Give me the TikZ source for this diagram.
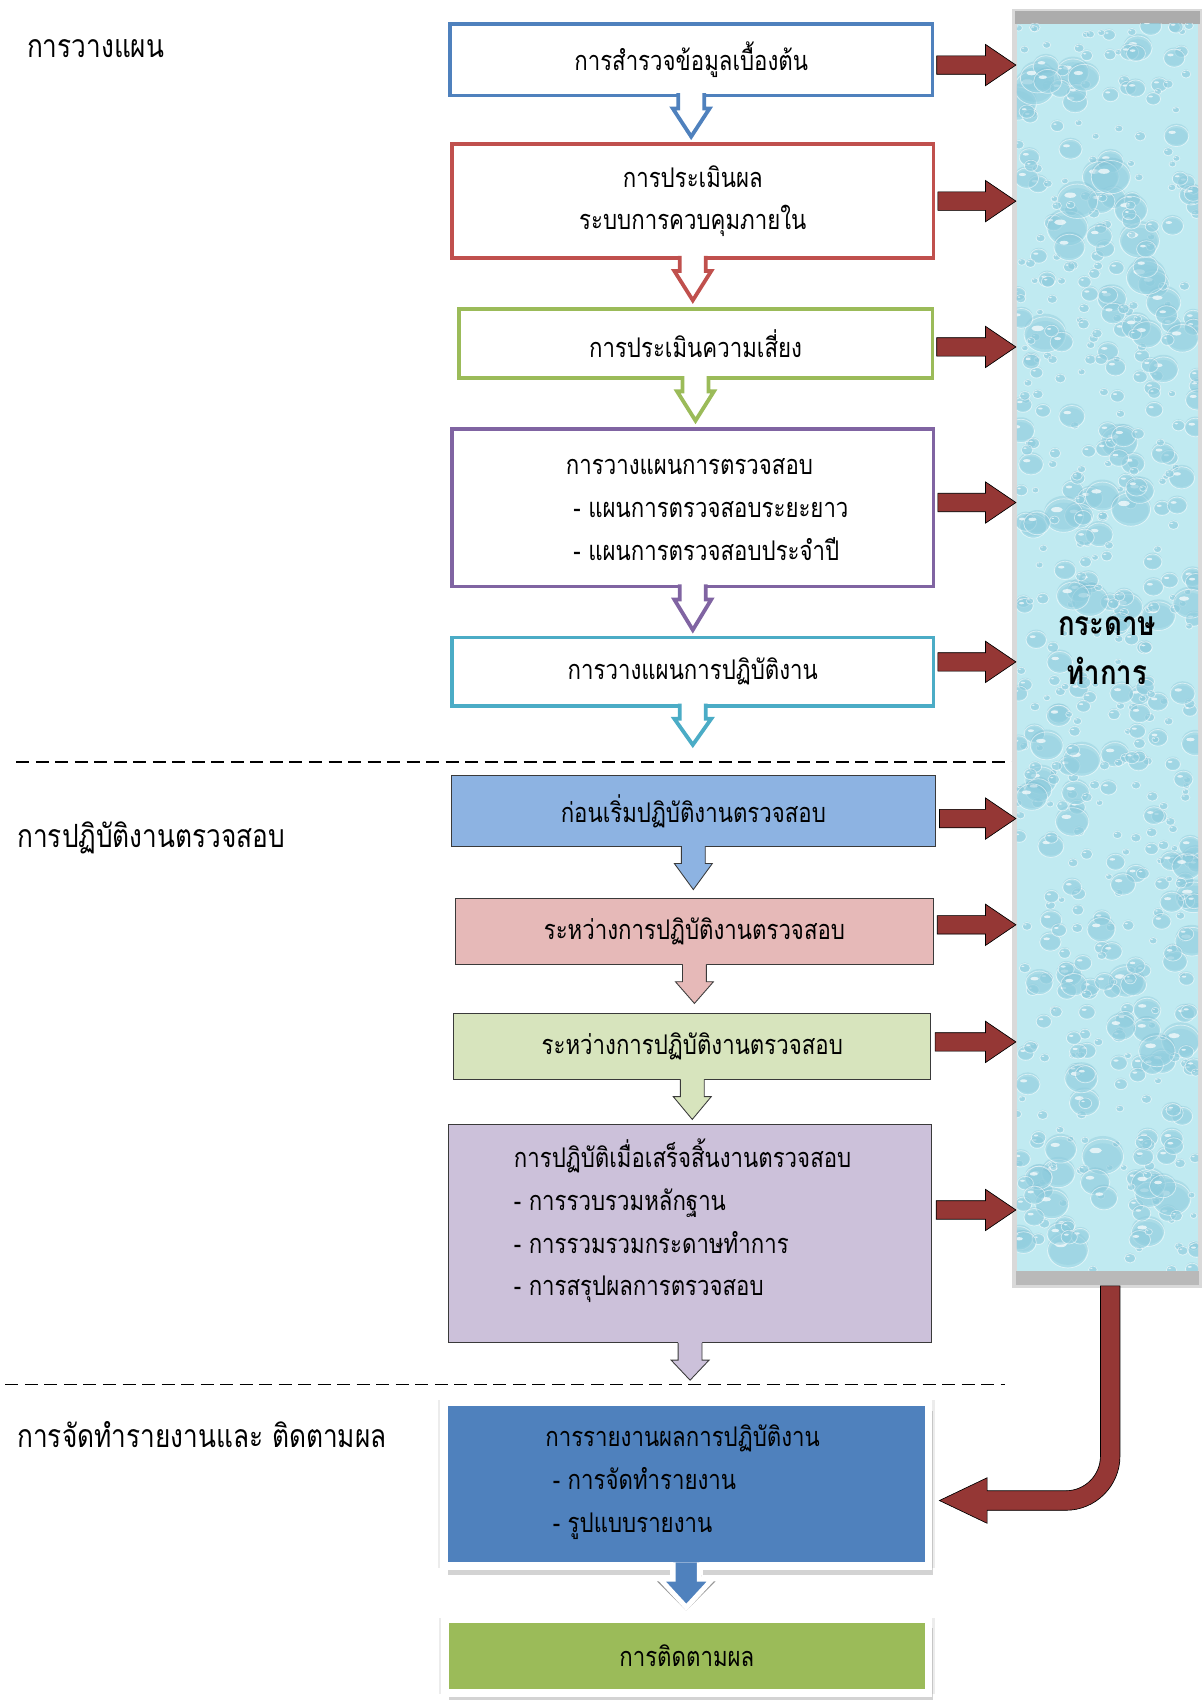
\documentclass[tikz,border=0pt]{standalone}
\usepackage{fontspec}
\newfontfamily\thai[Script=Thai,FakeStretch=0.82]{Loma}
\usetikzlibrary{calc,shadows}

\definecolor{cBlue}{HTML}{4F81BD}
\definecolor{cRed}{HTML}{C0504D}
\definecolor{cGreen}{HTML}{9BBB59}
\definecolor{cPurple}{HTML}{8064A2}
\definecolor{cCyan}{HTML}{4BACC6}
\definecolor{fBlue}{HTML}{8DB3E2}
\definecolor{fPink}{HTML}{E6B9B8}
\definecolor{fLime}{HTML}{D7E4BD}
\definecolor{fLilac}{HTML}{CCC1DA}
\definecolor{cEdge}{HTML}{3A3A3A}
\definecolor{cDarkRed}{HTML}{953735}
\definecolor{cWater}{RGB}{192,234,241}
\definecolor{cDrop}{RGB}{150,210,226}
\definecolor{cDropDark}{RGB}{110,180,204}

% hollow down arrow: from node #1 to visual tip #2, colour #3
\newcommand\hollowdown[3]{%
  \fill[white] let \p1=(#1.south), \p2=#2 in
    (\x1-12pt,\y1+2pt) -- (\x1-12pt,\y1-12pt) -- (\x1-17pt,\y1-12pt) -- (\x1,\y2+3pt)
    -- (\x1+17pt,\y1-12pt) -- (\x1+12pt,\y1-12pt) -- (\x1+12pt,\y1+2pt) -- cycle;
  \draw[#3,line width=3.5pt,miter limit=6] let \p1=(#1.south), \p2=#2 in
    (\x1-12pt,\y1+2pt) -- (\x1-12pt,\y1-12pt) -- (\x1-17pt,\y1-12pt) -- (\x1,\y2+3pt)
    -- (\x1+17pt,\y1-12pt) -- (\x1+12pt,\y1-12pt) -- (\x1+12pt,\y1+2pt);
}
% filled down arrow: from node #1 to tip #2, fill colour #3
\newcommand\solidown[3]{%
  \fill[#3] let \p1=(#1.south), \p2=#2 in
    (\x1-11pt,\y1+.5pt) -- (\x1-11pt,\y1-16pt) -- (\x1-17.5pt,\y1-16pt) -- (\x1,\y2)
    -- (\x1+17.5pt,\y1-16pt) -- (\x1+11pt,\y1-16pt) -- (\x1+11pt,\y1+.5pt) -- cycle;
  \draw[cEdge,line width=.8pt] let \p1=(#1.south), \p2=#2 in
    (\x1-11pt,\y1) -- (\x1-11pt,\y1-16pt) -- (\x1-17.5pt,\y1-16pt) -- (\x1,\y2)
    -- (\x1+17.5pt,\y1-16pt) -- (\x1+11pt,\y1-16pt) -- (\x1+11pt,\y1);
}
% block arrow from node #1 to the working-paper column, vertical offset #2 (pt)
\newcommand\blockright[2]{%
  \foreach \sx/\sy/\op in {-4/8/.1,-3/6/.14,-2/4/.18,-1/2/.2}{
    \fill[black,opacity=\op,xshift=\sx pt,yshift=\sy pt] let \p1=(#1.east), \p2=(col.west) in
      (\x1+4pt,\y1+#2pt+8.5pt) -- (\x2-29pt,\y1+#2pt+8.5pt) -- (\x2-29pt,\y1+#2pt+19pt)
      -- (\x2-1pt,\y1+#2pt) -- (\x2-29pt,\y1+#2pt-19pt) -- (\x2-29pt,\y1+#2pt-8.5pt)
      -- (\x1+4pt,\y1+#2pt-8.5pt) -- cycle;}
  \draw[fill=cDarkRed,draw=black,line width=.6pt] let \p1=(#1.east), \p2=(col.west) in
    (\x1+4pt,\y1+#2pt+8.5pt) -- (\x2-29pt,\y1+#2pt+8.5pt) -- (\x2-29pt,\y1+#2pt+19pt)
    -- (\x2-1pt,\y1+#2pt) -- (\x2-29pt,\y1+#2pt-19pt) -- (\x2-29pt,\y1+#2pt-8.5pt)
    -- (\x1+4pt,\y1+#2pt-8.5pt) -- cycle;
}

\tikzset{
  every node/.style={inner sep=0pt,outer sep=0pt},
  txt/.style={font=\thai\fontsize{25}{39.5}\selectfont,text=black},
  lbl/.style={font=\thai\fontsize{29.5}{34}\selectfont,text=black,anchor=west},
  obox/.style={txt,draw=#1,line width=3.5pt,fill=white},
  fbox/.style={txt,draw=cEdge,line width=.8pt,fill=#1},
  wbox/.style={txt,draw=white,line width=7pt,fill=#1,
    drop shadow={shadow xshift=4pt,shadow yshift=-8pt,opacity=.35,fill=gray},
    general shadow={shadow xshift=0pt,shadow yshift=0pt,shadow scale=1.025,opacity=.15,fill=gray}},
  dashline/.style={line width=1.4pt,dash pattern=on 12pt off 6pt},
}

\begin{document}
\begin{tikzpicture}[x=1pt,y=-1pt]
\useasboundingbox (0,0) rectangle (1110,1568);

% section labels
\node[lbl] (l1) at (25,45) {การวางแผน};
\node[lbl] (l2) at (16,773) {การปฏิบัติงานตรวจสอบ};
\node[lbl] (l3) at (16,1323) {การจัดทำรายงานและ ติดตามผล};

% section separators
\coordinate (d1a) at (15,703);  \coordinate (d1b) at (937,703);
\coordinate (d2a) at (5,1277);  \coordinate (d2b) at (927,1277);
\draw[dashline] (d1a) -- (d1b);
\draw[dashline] (d2a) -- (d2b);

% working-paper column with water-drop texture
\node[minimum width=167pt,minimum height=1150pt] (col) at (1021.5,597) {};
\fill[gray!30] ($(col.south west)+(-5pt,-16pt)$) rectangle ($(col.north east)+(4pt,14pt)$);
\fill[gray!55] ($(col.south west)+(-1pt,-13pt)$) rectangle ($(col.south east)+(1pt,0pt)$);
\fill[gray!65] ($(col.north west)+(-2pt,0pt)$) rectangle ($(col.north east)+(2pt,12pt)$);
\begin{scope}
  \clip (col.south west) rectangle (col.north east);
  \fill[cWater] (col.south west) rectangle (col.north east);
  \pgfmathsetseed{11}
  \foreach \i in {1,...,650}{
    \pgfmathsetmacro\px{938+rnd*167}
    \pgfmathsetmacro\py{22+rnd*1150}
    \pgfmathsetmacro\pr{3+rnd*rnd*17}
    \fill[cDropDark,opacity=.25] (\px,\py-.15*\pr) ellipse [x radius=\pr pt,y radius=.85*\pr pt];
    \fill[cDrop,opacity=.5] (\px,\py+.1*\pr) ellipse [x radius=.9*\pr pt,y radius=.75*\pr pt];
    \draw[white,opacity=.55,line width=.7pt] (\px,\py) ellipse [x radius=\pr pt,y radius=.85*\pr pt];
    \fill[white,opacity=.7] (\px-.35*\pr,\py-.3*\pr) ellipse [x radius=.3*\pr pt,y radius=.13*\pr pt];
  }
\end{scope}
\node[font=\thai\bfseries\fontsize{31}{45}\selectfont,align=center] (colt) at (1021,600) {กระดาษ\\ทำการ};

% planning boxes
\node[obox=cBlue,minimum width=445pt,minimum height=66pt] (b1) at (637.5,55) {การสำรวจข้อมูลเบื้องต้น};
\node[obox=cRed,minimum width=444pt,minimum height=105pt,align=center] (b2) at (639,185.5) {การประเมินผล\\ระบบการควบคุมภายใน};
\node[obox=cGreen,minimum width=437pt,minimum height=64pt] (b3) at (641.5,317) {การประเมินความเสี่ยง};
\node[obox=cPurple,minimum width=444pt,minimum height=145pt] (b4) at (639,468.5) {};
\node[txt,align=left,anchor=west] (b4t) at (522,470) {การวางแผนการตรวจสอบ\\\ - แผนการตรวจสอบระยะยาว\\\ - แผนการตรวจสอบประจำปี};
\node[obox=cCyan,minimum width=444pt,minimum height=63pt] (b5) at (639,619.5) {การวางแผนการปฏิบัติงาน};

% audit boxes
\node[fbox=fBlue,minimum width=446pt,minimum height=65pt] (b6) at (639.5,748) {ก่อนเริ่มปฏิบัติงานตรวจสอบ};
\node[fbox=fPink,minimum width=440pt,minimum height=61pt] (b7) at (640.5,859) {ระหว่างการปฏิบัติงานตรวจสอบ};
\node[fbox=fLime,minimum width=440pt,minimum height=61pt] (b8) at (638.5,965) {ระหว่างการปฏิบัติงานตรวจสอบ};
\node[fbox=fLilac,minimum width=446pt,minimum height=201pt] (b9) at (636.5,1138) {};
\node[txt,align=left,anchor=west] (b9t) at (474,1126) {การปฏิบัติเมื่อเสร็จสิ้นงานตรวจสอบ\\- การรวบรวมหลักฐาน\\- การรวมรวมกระดาษทำการ\\- การสรุปผลการตรวจสอบ};

% reporting boxes
\node[wbox=cBlue,minimum width=447pt,minimum height=151pt] (b10) at (633,1369) {};
\node[txt,align=left,anchor=west] (b10t) at (503,1367) {การรายงานผลการปฏิบัติงาน\\\ - การจัดทำรายงาน\\\ - รูปแบบรายงาน};
\node[wbox=cGreen,minimum width=446pt,minimum height=68pt] (b11) at (633.5,1527.5) {การติดตามผล};

% flow arrows between boxes
\hollowdown{b1}{($(b1.south|-b2.north)+(0pt,4pt)$)}{cBlue}
\hollowdown{b2}{($(b2.south|-b3.north)+(0pt,5pt)$)}{cRed}
\hollowdown{b3}{($(b3.south|-b4.north)+(0pt,5pt)$)}{cGreen}
\hollowdown{b4}{($(b4.south|-b5.north)+(0pt,4pt)$)}{cPurple}
\hollowdown{b5}{($(b5.south|-d1a)+(0pt,13pt)$)}{cCyan}
\solidown{b6}{($(b6.south|-b7.north)+(0pt,8pt)$)}{fBlue}
\solidown{b7}{($(b7.south|-b8.north)+(0pt,9pt)$)}{fPink}
\solidown{b8}{($(b8.south|-b9.north)+(0pt,5pt)$)}{fLime}
\solidown{b9}{($(b9.south|-d2a)+(0pt,4pt)$)}{fLilac}

% report to follow-up arrow
\foreach \sx/\sy/\op in {4/-8/.12,3/-6/.16,2/-4/.2}{
\fill[black,opacity=\op,xshift=\sx pt,yshift=\sy pt] let \p1=(b10.south), \p2=(b11.north) in
  (\x1-14pt,\y1) -- (\x1-14pt,\y1-14pt) -- (\x1-27pt,\y1-14pt) -- (\x1,\y2+8pt)
  -- (\x1+27pt,\y1-14pt) -- (\x1+14pt,\y1-14pt) -- (\x1+14pt,\y1) -- cycle;}
\fill[white] let \p1=(b10.south), \p2=(b11.north) in
  (\x1-15pt,\y1+1pt) rectangle (\x1+15pt,\y1-8pt);
\draw[fill=cBlue,draw=white,line width=4.5pt] let \p1=(b10.south), \p2=(b11.north) in
  (\x1-12pt,\y1+3.5pt) -- (\x1-12pt,\y1-12pt) -- (\x1-24pt,\y1-12pt) -- (\x1,\y2+11pt)
  -- (\x1+24pt,\y1-12pt) -- (\x1+12pt,\y1-12pt) -- (\x1+12pt,\y1+3.5pt);

% arrows into the working-paper column
\blockright{b1}{-5}
\blockright{b2}{0}
\blockright{b3}{-3}
\blockright{b4}{5}
\blockright{b5}{9}
\blockright{b6}{-7}
\blockright{b7}{6}
\blockright{b8}{4}
\blockright{b9}{22}

% working papers feed the report
\foreach \sx/\sy/\op in {-4/7/.1,-2.5/4.5/.15,-1/2/.2}{
\fill[black,opacity=\op,xshift=\sx pt,yshift=\sy pt]
  let \p1=($(col.south)+(2.5pt,-14pt)$), \p3=($(b10.east)+(10pt,-15pt)$) in
  (\x1+9pt,\y1) -- (\x1+9pt,\y3+41pt)
  .. controls (\x1+9pt,\y3+13.4pt) and (\x1-13.4pt,\y3-9pt) .. (\x1-41pt,\y3-9pt)
  -- (\x3+44pt,\y3-9pt) -- (\x3+44pt,\y3-21pt) -- (\x3,\y3) -- (\x3+44pt,\y3+21pt)
  -- (\x3+44pt,\y3+9pt) -- (\x1-41pt,\y3+9pt)
  .. controls (\x1-23.3pt,\y3+9pt) and (\x1-9pt,\y3+23.3pt) .. (\x1-9pt,\y3+41pt)
  -- (\x1-9pt,\y1) -- cycle;}
\draw[fill=cDarkRed,draw=black,line width=.6pt]
  let \p1=($(col.south)+(2.5pt,-14pt)$), \p3=($(b10.east)+(10pt,-15pt)$) in
  (\x1+9pt,\y1) -- (\x1+9pt,\y3+41pt)
  .. controls (\x1+9pt,\y3+13.4pt) and (\x1-13.4pt,\y3-9pt) .. (\x1-41pt,\y3-9pt)
  -- (\x3+44pt,\y3-9pt) -- (\x3+44pt,\y3-21pt) -- (\x3,\y3) -- (\x3+44pt,\y3+21pt)
  -- (\x3+44pt,\y3+9pt) -- (\x1-41pt,\y3+9pt)
  .. controls (\x1-23.3pt,\y3+9pt) and (\x1-9pt,\y3+23.3pt) .. (\x1-9pt,\y3+41pt)
  -- (\x1-9pt,\y1) -- cycle;
\end{tikzpicture}
\end{document}
